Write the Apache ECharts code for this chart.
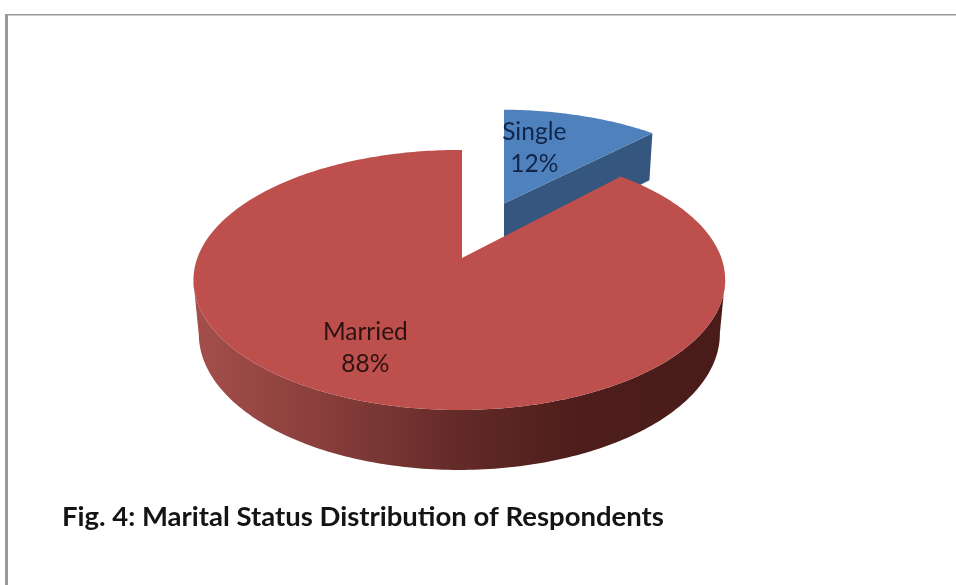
<!DOCTYPE html>
<html>
<head>
<meta charset="utf-8">
<style>html,body{margin:0;padding:0;background:#fff}#c{width:956px;height:585px}</style>
<script src="https://cdn.jsdelivr.net/npm/echarts@6/dist/echarts.min.js"></script>
</head>
<body>
<div id="c"></div>
<script>
const categories = ['Single', 'Married'];
const values = [12, 88];
const titleText = 'Fig. 4: Marital Status Distribution of Respondents';

// projection of the tilted pie
const explodeDepth = [0.5, 0];
const explodeShiftX = [42, 0];
const CX = 462, CY = 258, RX = 262, RY = 126.3, KV = 0.169, KU = 0.01;
const DEPTH = 52.8, LOW_SX = 0.98, LOW_SY = 1.047;
const topFill = ['#4f81bd', '#bd4f4c'];
const cutFill = '#34567f';
const labelFill = ['#10264a', '#2e1212'];
const labelPos = [[-19, 0], [-23, 0]];
const labelRadius = [0.6, 0.68];

function project(u, v, low) {
  const w = 1 - KV * v + KU * u;
  const sx = low ? LOW_SX : 1, sy = low ? LOW_SY : 1;
  return [CX + sx * RX * u / w, CY + (low ? DEPTH : 0) + sy * RY * v / w];
}
const total = values.reduce((a, b) => a + b, 0);
function sliceGeom(i) {
  const start = values.slice(0, i).reduce((a, b) => a + b, 0) / total * 2 * Math.PI;
  const end = start + values[i] / total * 2 * Math.PI;
  const mid = (start + end) / 2;
  const oy = -explodeDepth[i] * Math.cos(mid);
  const at = (a, r, low) => {
    const p = project(r * Math.sin(a), oy - r * Math.cos(a), low);
    return [p[0] + explodeShiftX[i], p[1]];
  };
  return { start, end, mid, at };
}
function arc(g, a0, a1, low) {
  const pts = [], n = Math.max(2, Math.ceil(Math.abs(a1 - a0) * 60));
  for (let t = 0; t <= n; t++) pts.push(g.at(a0 + (a1 - a0) * t / n, 1, low));
  return pts;
}
// the part of a rim that runs from its rightmost to its leftmost point
function frontRim(g, low) {
  const pts = arc(g, g.start, g.end, low);
  let hi = 0, lo = 0;
  pts.forEach((p, k) => { if (p[0] > pts[hi][0]) hi = k; if (p[0] < pts[lo][0]) lo = k; });
  return pts.slice(hi, lo + 1);
}
const wallGradient = {
  type: 'linear', x: 192, y: 0, x2: 725, y2: 0, global: true,
  colorStops: [
    { offset: 0, color: '#a54f4c' },
    { offset: 0.25, color: '#883e3b' },
    { offset: 0.5, color: '#632a28' },
    { offset: 0.72, color: '#4d1e1b' },
    { offset: 1, color: '#4a1c19' }
  ]
};
function renderItem(params, api) {
  const i = params.dataIndex;
  const g = sliceGeom(i);
  const children = [];
  if (i === 0) {
    children.push({ type: 'polygon', shape: { points: [g.at(0, 0, false), g.at(g.end, 1, false), g.at(g.end, 1, true), g.at(0, 0, true)] }, style: { fill: cutFill } });
  } else {
    children.push({ type: 'polygon', shape: { points: frontRim(g, false).concat(frontRim(g, true).reverse()) }, style: { fill: wallGradient } });
  }
  children.push({ type: 'polygon', shape: { points: [g.at(0, 0, false)].concat(arc(g, g.start, g.end, false)) }, style: { fill: topFill[i] } });
  const p = g.at(g.mid, labelRadius[i], false);
  children.push({
    type: 'text', z2: 10,
    style: {
      x: p[0] + labelPos[i][0], y: p[1] + labelPos[i][1],
      text: api.value(1) + '\n' + api.value(0) + '%',
      fill: labelFill[i], font: '24.5px Lato', align: 'center', verticalAlign: 'middle', lineHeight: 32
    }
  });
  return { type: 'group', children };
}
const chart = echarts.init(document.getElementById('c'), null, { renderer: 'canvas' });
chart.setOption({
  animation: false,
  backgroundColor: '#ffffff',
  title: {
    text: titleText, left: 57, top: 498,
    textStyle: { fontFamily: 'Lato', fontWeight: 'bold', fontSize: 27.5, color: '#141414' }
  },
  graphic: [
    { type: 'rect', shape: { x: 5, y: 14, width: 3, height: 571 }, style: { fill: '#9a9a9a' }, silent: true },
    { type: 'rect', shape: { x: 5, y: 14, width: 951, height: 1.4 }, style: { fill: '#9a9a9a' }, silent: true }
  ],
  series: [{
    type: 'custom',
    coordinateSystem: 'none',
    renderItem,
    silent: true,
    data: values.map((v, i) => [v, categories[i]])
  }]
});
</script>
</body>
</html>
